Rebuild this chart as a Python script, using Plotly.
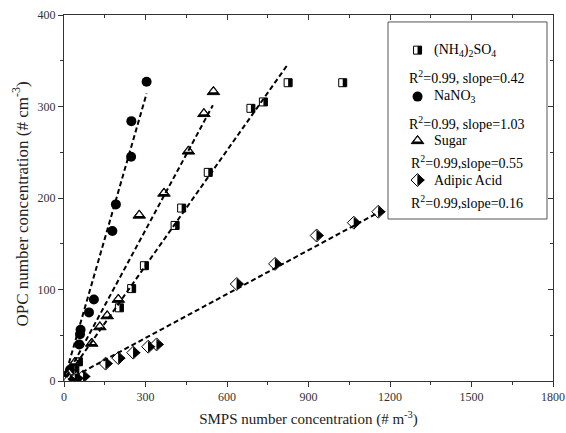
import plotly.graph_objects as go

FONT = "Liberation Serif"

# ---------------- data ----------------
so4_x = [22, 40, 53, 204, 249, 296, 409, 433, 531, 688, 734, 825, 1026]
so4_y = [5, 12, 21, 80, 101, 126, 170, 189, 228, 298, 305, 326, 326]

nano3_x = [17, 22, 56, 59, 61, 92, 110, 178, 191, 247, 248, 304]
nano3_y = [8, 12, 40, 51, 56, 75, 89, 164, 193, 245, 284, 327]

sugar_x = [20, 40, 102, 132, 159, 200, 277, 368, 458, 515, 550]
sugar_y = [8, 20, 41, 59, 71, 89, 181, 205, 251, 292, 316]

adip_x = [22, 40, 47, 71, 153, 200, 255, 310, 341, 636, 777, 930, 1067, 1157]
adip_y = [1, 2, 3, 5, 19, 25, 31, 37.5, 40, 106, 128, 159, 173, 185]

fit_slopes = [0.42, 1.03, 0.55, 0.16]
fit_intercepts = [0.0, 1.0, 0.0, -1.0]
fit_x_start = [10, 10, 10, 15]
fit_x_end = [825, 304, 548, 1160]

legend_names = ["(NH<sub>4</sub>)<sub>2</sub>SO<sub>4</sub>", "NaNO<sub>3</sub>", "Sugar", "Adipic Acid"]
legend_stats = ["R<sup>2</sup>=0.99, slope=0.42", "R<sup>2</sup>=0.99, slope=1.03",
                "R<sup>2</sup>=0.99,slope=0.55", "R<sup>2</sup>=0.99,slope=0.16"]

x_ticks = [0, 300, 600, 900, 1200, 1500, 1800]
y_ticks = [0, 100, 200, 300, 400]

x_title = "SMPS number concentration (# m<sup>-3</sup>)"
y_title = "OPC number concentration (# cm<sup>-3</sup>)"

# ---------------- marker helpers ----------------
def sc(x, y, xa, ya, marker):
    return go.Scatter(x=x, y=y, xaxis=xa, yaxis=ya, mode="markers", marker=marker,
                      showlegend=False, hoverinfo="skip")

def half_square(x, y, xa="x", ya="y", size=8):
    return [
        sc(x, y, xa, ya, dict(symbol="square", size=size, color="white",
                              line=dict(color="black", width=1))),
        sc(x, y, xa, ya, dict(symbol="line-ew", size=size / 1.4, angle=270,
                              standoff=size / 4, color="black",
                              line=dict(color="black", width=size / 2))),
    ]

def full_circle(x, y, xa="x", ya="y", size=10):
    return [sc(x, y, xa, ya, dict(symbol="circle", size=size, color="black",
                                  line=dict(color="black", width=0)))]

def half_triangle(x, y, xa="x", ya="y", size=11):
    return [
        sc(x, y, xa, ya, dict(symbol="triangle-up", size=size, color="black",
                              line=dict(color="black", width=1))),
        sc(x, y, xa, ya, dict(symbol="triangle-down", size=size * 0.55, angle=180,
                              standoff=1, color="white",
                              line=dict(color="white", width=0))),
    ]

def half_diamond(x, y, xa="x", ya="y", size=10):
    return [
        sc(x, y, xa, ya, dict(symbol="diamond", size=size, color="white",
                              line=dict(color="black", width=1))),
        sc(x, y, xa, ya, dict(symbol="triangle-down", size=size, angle=270,
                              standoff=size * 0.23, color="black",
                              line=dict(color="black", width=0))),
    ]

fig = go.Figure()

for t in half_square(so4_x, so4_y):
    fig.add_trace(t)
for t in full_circle(nano3_x, nano3_y):
    fig.add_trace(t)
for t in half_triangle(sugar_x, sugar_y):
    fig.add_trace(t)
for t in half_diamond(adip_x, adip_y):
    fig.add_trace(t)

# fitted lines
for s, b, x0, x1 in zip(fit_slopes, fit_intercepts, fit_x_start, fit_x_end):
    fig.add_trace(go.Scatter(x=[x0, x1], y=[s * x0 + b, s * x1 + b], mode="lines",
                             line=dict(color="black", width=2, dash="5px,3px"),
                             showlegend=False, hoverinfo="skip"))

# dummy trace for mirrored (inward) tick axes
fig.add_trace(go.Scatter(x=[None], y=[None], xaxis="x2", yaxis="y2", mode="markers",
                         showlegend=False, hoverinfo="skip"))

# ---------------- hand-made legend ----------------
leg_marker_x = 0.723
leg_rows_y = [0.904, 0.777, 0.656, 0.549]
leg_stat_y = [0.830, 0.704, 0.598, 0.490]
makers = [half_square, full_circle, half_triangle, half_diamond]
for mk, yy in zip(makers, leg_rows_y):
    for t in mk([leg_marker_x], [yy], "x3", "y3"):
        fig.add_trace(t)

annotations = []
for name, yy in zip(legend_names, leg_rows_y):
    annotations.append(dict(text=name, x=0.752, y=yy, xref="paper", yref="paper",
                            xanchor="left", yanchor="middle", showarrow=False,
                            font=dict(family=FONT, size=14, color="black")))
for st, yy in zip(legend_stats, leg_stat_y):
    annotations.append(dict(text=st, x=0.824, y=yy, xref="paper", yref="paper",
                            xanchor="center", yanchor="middle", showarrow=False,
                            font=dict(family=FONT, size=14, color="black")))
# y-axis title placed as a rotated annotation for exact placement
annotations.append(dict(text=y_title, x=-0.088, y=0.485, xref="paper", yref="paper",
                        xanchor="center", yanchor="middle", textangle=-90, showarrow=False,
                        font=dict(family=FONT, size=17, color="#222")))

shapes = [dict(type="rect", xref="paper", yref="paper", x0=0.6626, x1=0.9877,
               y0=0.4426, y1=0.981, line=dict(color="#555", width=1),
               fillcolor="rgba(0,0,0,0)", layer="above")]

axis_line = "#333"
tickfont = dict(family=FONT, size=12, color="#333")

fig.update_layout(
    width=566, height=433,
    margin=dict(l=64, r=13, t=15, b=52, autoexpand=False),
    paper_bgcolor="white", plot_bgcolor="white",
    font=dict(family=FONT, color="black"),
    showlegend=False,
    annotations=annotations,
    shapes=shapes,
    xaxis=dict(range=[0, 1800], tickmode="array", tickvals=x_ticks, automargin=False,
               ticks="outside", ticklen=5, tickwidth=1, tickcolor=axis_line,
               minor=dict(ticks="outside", dtick=150, tick0=0, ticklen=3, tickcolor=axis_line),
               showline=True, linecolor=axis_line, linewidth=1, mirror=True,
               showgrid=False, zeroline=False, tickfont=tickfont,
               title=dict(text=x_title,
                          font=dict(family=FONT, size=15, color="#222"), standoff=10)),
    yaxis=dict(range=[0, 400], tickmode="array", tickvals=y_ticks, automargin=False,
               ticks="outside", ticklen=5, tickwidth=1, tickcolor=axis_line,
               minor=dict(ticks="outside", dtick=50, tick0=0, ticklen=3, tickcolor=axis_line),
               showline=True, linecolor=axis_line, linewidth=1, mirror=True,
               showgrid=False, zeroline=False, tickfont=tickfont),
    xaxis2=dict(range=[0, 1800], overlaying="x", side="top", anchor="y", automargin=False,
                tickmode="array", tickvals=x_ticks, ticks="inside", ticklen=5,
                tickcolor=axis_line,
                minor=dict(ticks="inside", dtick=150, tick0=0, ticklen=3, tickcolor=axis_line),
                showticklabels=False, showgrid=False, zeroline=False, showline=False),
    yaxis2=dict(range=[0, 400], overlaying="y", side="right", anchor="x", automargin=False,
                tickmode="array", tickvals=y_ticks, ticks="inside", ticklen=5,
                tickcolor=axis_line,
                minor=dict(ticks="inside", dtick=50, tick0=0, ticklen=3, tickcolor=axis_line),
                showticklabels=False, showgrid=False, zeroline=False, showline=False),
    xaxis3=dict(range=[0, 1], overlaying="x", visible=False),
    yaxis3=dict(range=[0, 1], overlaying="y", visible=False),
)

# remove the browser's default 8px body margin so the figure sits at (0, 0)
fig.write_html("out.html", config={"displayModeBar": False},
               post_script="document.body.style.margin='0';")
